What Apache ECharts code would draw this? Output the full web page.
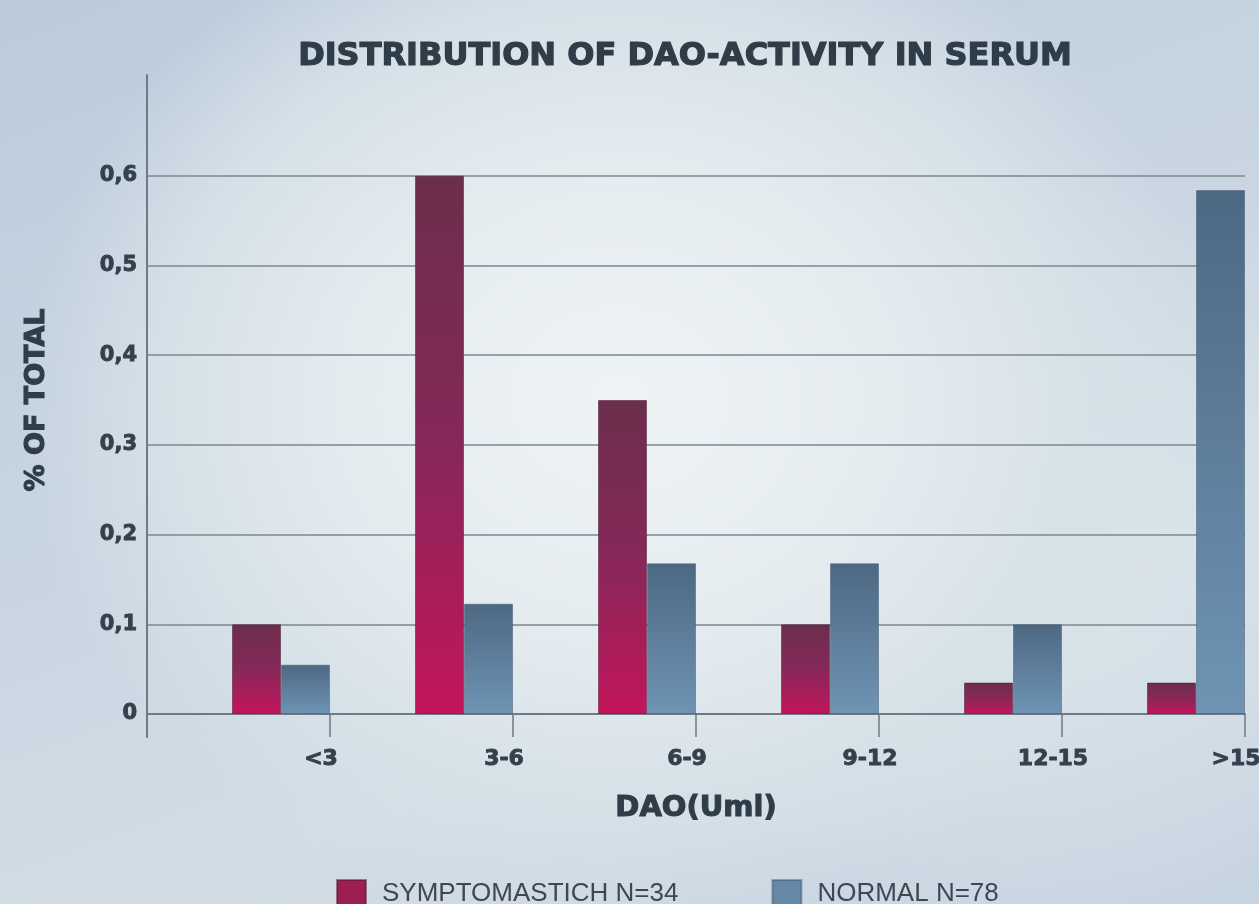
<!DOCTYPE html>
<html>
<head>
<meta charset="utf-8">
<script src="https://cdn.jsdelivr.net/npm/echarts@6/dist/echarts.min.js"></script>
<style>
  html, body { margin: 0; padding: 0; }
  #chart {
    width: 1259px; height: 904px;
    background:
      radial-gradient(ellipse 600px 520px at 620px 400px, rgba(238,243,245,1) 0%, rgba(229,236,240,1) 45%, rgba(214,225,232,0.9) 78%, rgba(200,214,226,0) 100%),
      radial-gradient(ellipse 420px 380px at 1050px 560px, rgba(222,231,237,0.8) 0%, rgba(222,231,237,0) 100%),
      linear-gradient(160deg, #bccbdc 0%, #c9d6e2 45%, #d2dde5 70%, #c6d3e0 100%);
  }
</style>
</head>
<body>
<div id="chart"></div>
<script>
const categories = ['<3', '3-6', '6-9', '9-12', '12-15', '>15'];
const xTickLabels = ['', '<3', '3-6', '6-9', '9-12', '12-15', '>15'];
const symptomatic = [0.10, 0.60, 0.35, 0.10, 0.035, 0.035];
const normal = [0.055, 0.123, 0.168, 0.168, 0.10, 0.584];
const seriesNames = ['SYMPTOMASTICH N=34', 'NORMAL N=78'];
const yMax = 0.7;
const yStep = 0.1;

const heavy = 'DejaVu Sans';
const textDark = '#34414c';
const titleDark = '#2f3d48';
const gridColor = '#7c8791';

function heavyText(size, color, border) {
  return {
    fontFamily: heavy, fontWeight: 'bold', fontSize: size, color: color,
    textBorderColor: color, textBorderWidth: border
  };
}

const symGrad = new echarts.graphic.LinearGradient(0, 0, 0, 1, [
  { offset: 0, color: '#6b2e4c' },
  { offset: 0.5, color: '#862858' },
  { offset: 1, color: '#c4145c' }
]);
const normGrad = new echarts.graphic.LinearGradient(0, 0, 0, 1, [
  { offset: 0, color: '#4d6883' },
  { offset: 1, color: '#6f94b4' }
]);

const chart = echarts.init(document.getElementById('chart'), null, { renderer: 'canvas' });
chart.setOption({
  backgroundColor: 'transparent',
  animation: false,
  title: {
    text: 'DISTRIBUTION OF DAO-ACTIVITY IN SERUM',
    left: 680,
    textAlign: 'center',
    top: 36,
    textStyle: heavyText(32, titleDark, 1.2)
  },
  legend: {
    data: [
      { name: seriesNames[0], itemStyle: { color: '#9c1f4f' } },
      { name: seriesNames[1], itemStyle: { color: '#6688a7' } }
    ],
    left: 331,
    top: 874,
    icon: 'rect',
    itemWidth: 29,
    itemHeight: 28,
    itemGap: 93,
    textStyle: { fontFamily: 'Liberation Sans', fontSize: 26, color: '#3d4853', padding: [0, 0, 0, 11] }
  },
  grid: [
    { left: 147, right: 14, top: 86, bottom: 190, containLabel: false, outerBoundsMode: 'none' },
    { left: 147, right: 14, top: 75, bottom: 167, containLabel: false, outerBoundsMode: 'none' }
  ],
  xAxis: [
    {
      type: 'category', gridIndex: 0, data: categories, boundaryGap: true,
      axisLine: { show: false }, axisTick: { show: false }, axisLabel: { show: false }
    },
    {
      type: 'category', gridIndex: 0, data: xTickLabels, boundaryGap: false, position: 'bottom',
      axisLine: { show: true, lineStyle: { color: '#6f7a85', width: 2 } },
      axisTick: { show: true, length: 23, lineStyle: { color: '#6f7a85', width: 1.5 } },
      axisLabel: Object.assign({ show: true, margin: 34, padding: [0, 18, 0, 0] }, heavyText(22, textDark, 0.9)),
      splitLine: { show: false },
      name: 'DAO(Uml)', nameLocation: 'middle', nameGap: 80,
      nameTextStyle: heavyText(29, titleDark, 1.1)
    },
    { type: 'value', gridIndex: 1, show: false, min: 0, max: 1 }
  ],
  yAxis: [
    {
      type: 'value', gridIndex: 0, min: 0, max: yMax, interval: yStep,
      axisLine: { show: false }, axisTick: { show: false },
      axisLabel: Object.assign({
        margin: 10,
        formatter: v => (v >= yMax - 1e-9 ? '' : (v === 0 ? '0' : v.toFixed(1).replace('.', ',')))
      }, heavyText(21, textDark, 0.9)),
      splitLine: {
        show: true, showMaxLine: false,
        lineStyle: { color: [gridColor, gridColor, gridColor, gridColor, gridColor, gridColor, gridColor, 'rgba(0,0,0,0)'], width: 1.5 }
      },
      name: '% OF TOTAL', nameLocation: 'middle', nameRotate: 90, nameGap: 97,
      nameTextStyle: heavyText(27, titleDark, 1.1)
    },
    {
      type: 'value', gridIndex: 1, min: 0, max: 1,
      axisLine: { show: true, lineStyle: { color: '#6f7a85', width: 2 } },
      axisTick: { show: false }, axisLabel: { show: false }, splitLine: { show: false }
    }
  ],
  series: [
    {
      name: 'spacer', type: 'bar', xAxisIndex: 0, yAxisIndex: 0,
      data: categories.map(() => null), barWidth: 85, barGap: '0%', silent: true,
      itemStyle: { color: 'rgba(0,0,0,0)' }
    },
    {
      name: seriesNames[0], type: 'bar', xAxisIndex: 0, yAxisIndex: 0,
      data: symptomatic, barWidth: 49, barGap: '0%',
      itemStyle: { color: symGrad, borderColor: 'rgba(80,20,45,0.5)', borderWidth: 1 }
    },
    {
      name: seriesNames[1], type: 'bar', xAxisIndex: 0, yAxisIndex: 0,
      data: normal, barWidth: 49, barGap: '0%',
      itemStyle: { color: normGrad, borderColor: 'rgba(50,70,95,0.4)', borderWidth: 1 }
    }
  ]
});
</script>
</body>
</html>
